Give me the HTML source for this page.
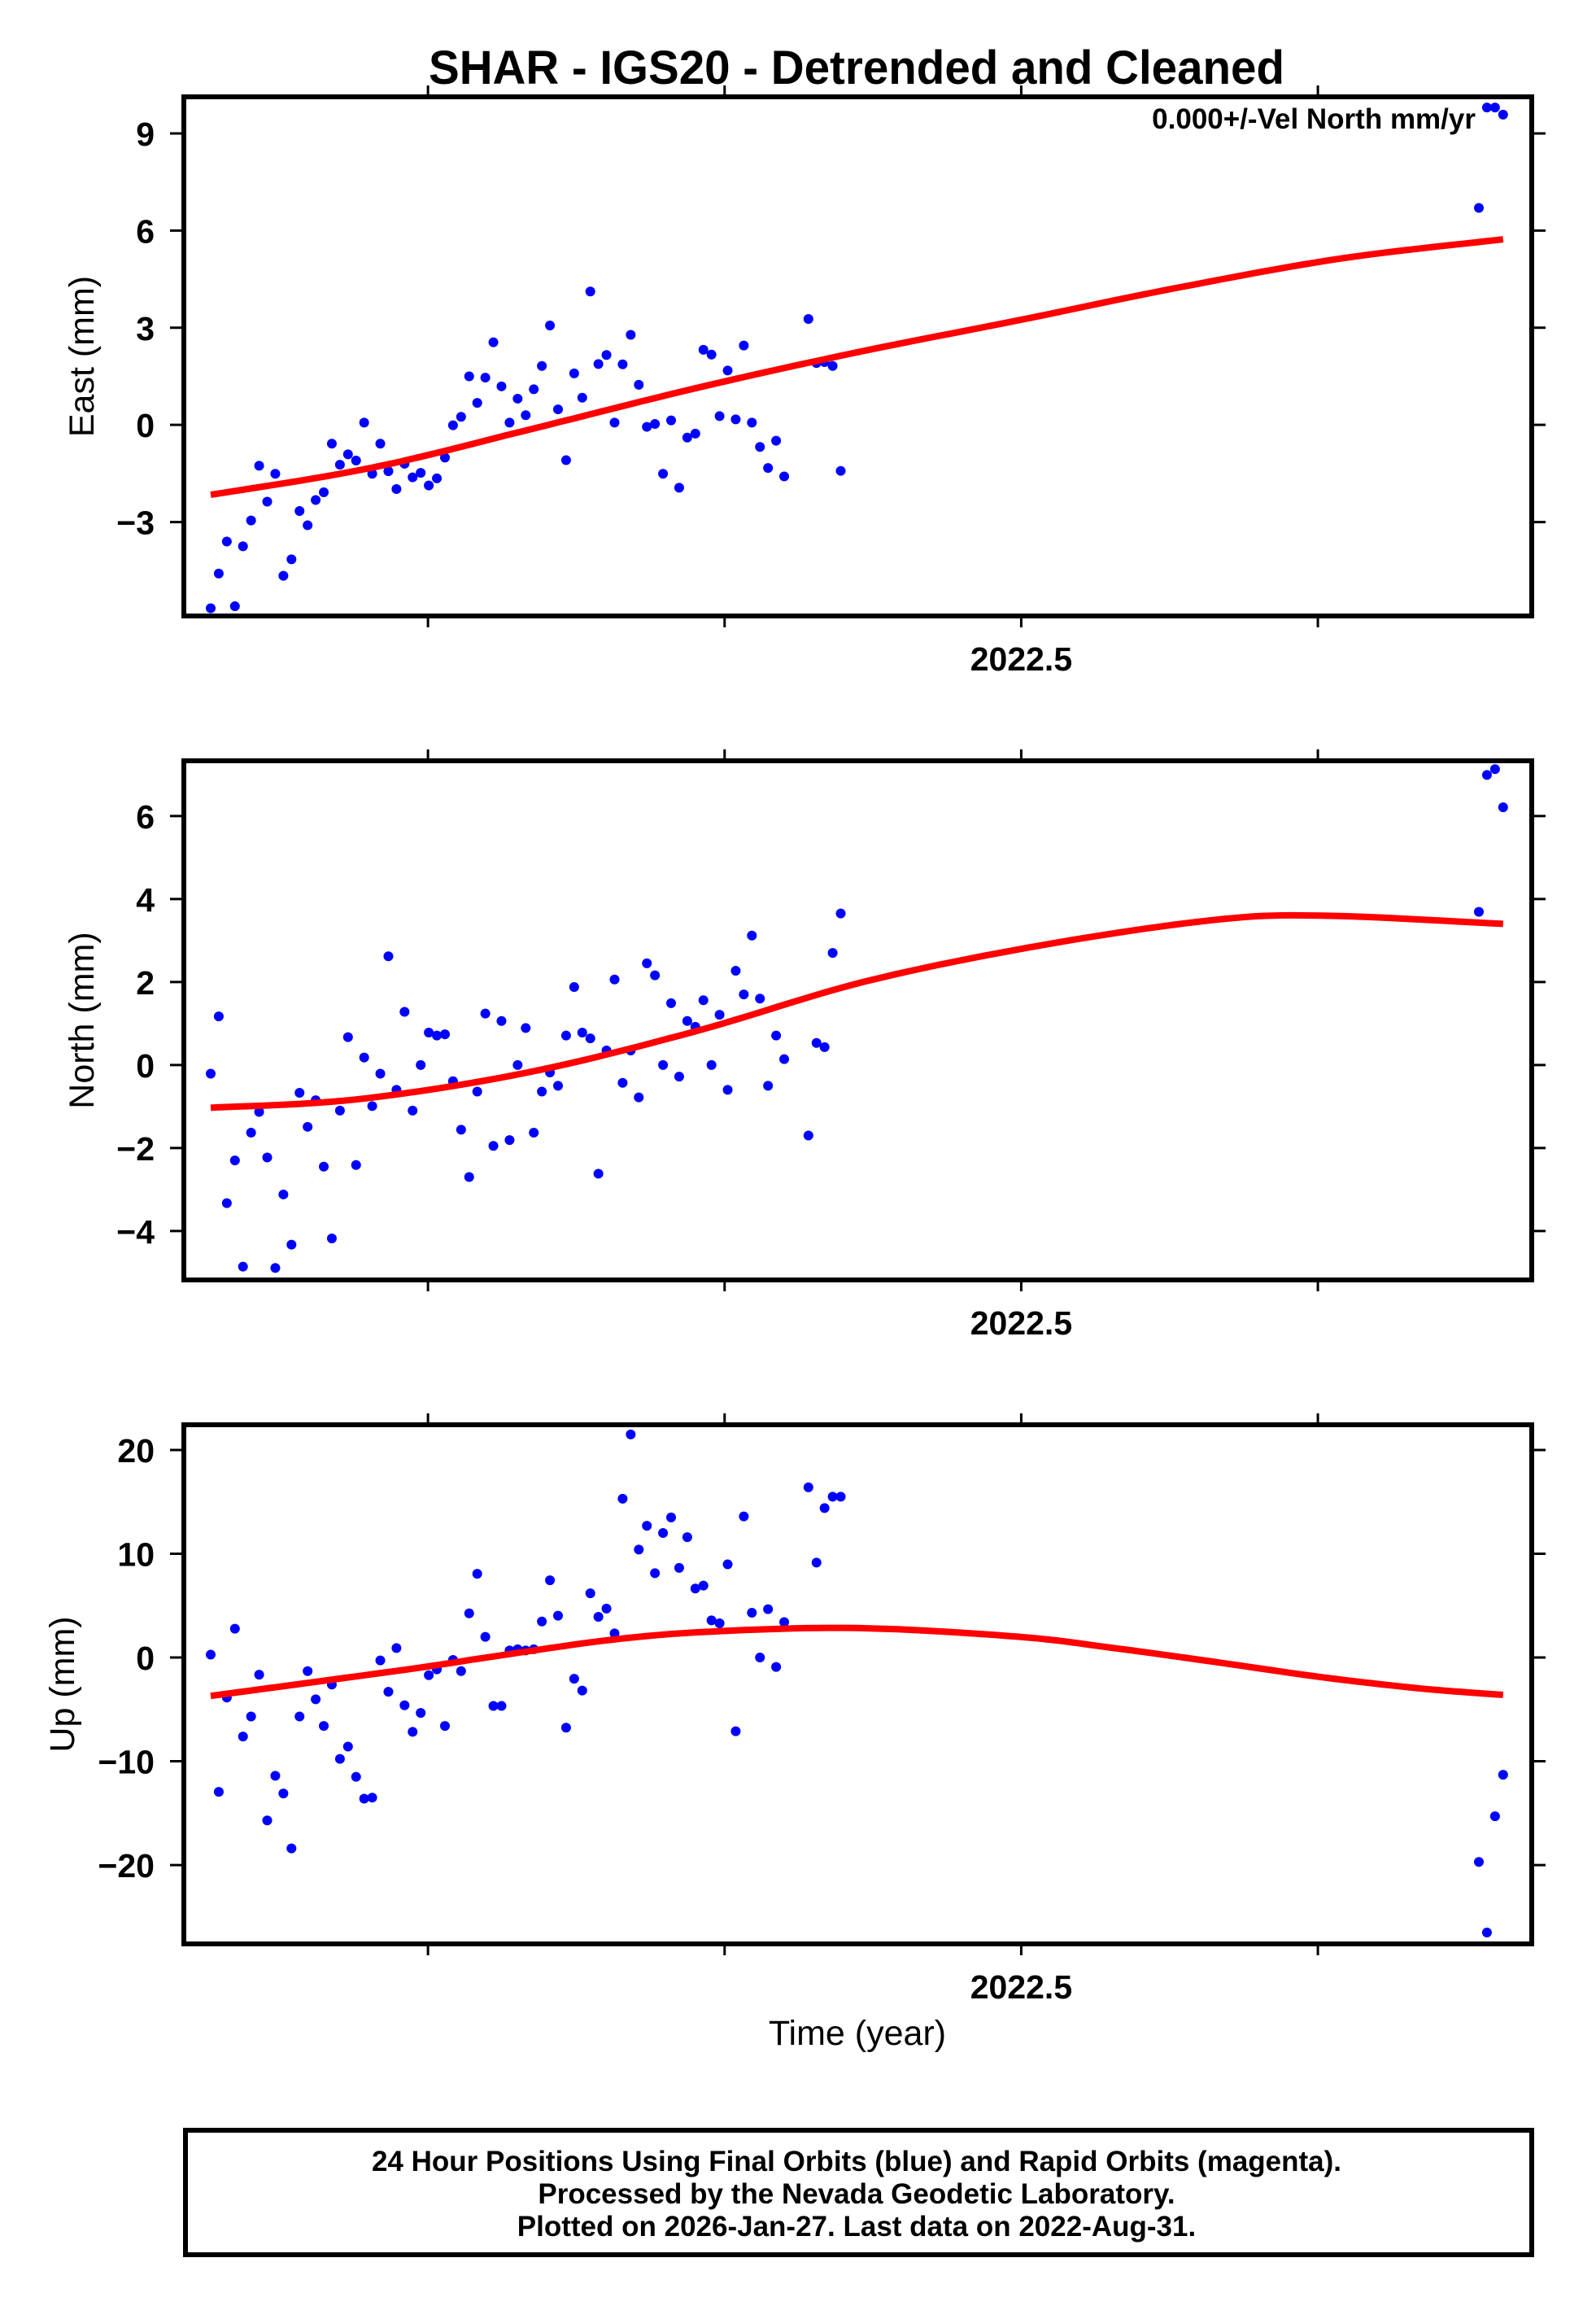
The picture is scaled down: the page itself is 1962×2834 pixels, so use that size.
<!DOCTYPE html>
<html><head><meta charset="utf-8"><style>
html,body{margin:0;padding:0;background:#fff;}
svg{display:block;font-family:"Liberation Sans",Arial,sans-serif;}
</style></head><body>
<svg id="chart" width="1962" height="2834" viewBox="0 0 1962 2834" xmlns="http://www.w3.org/2000/svg">
<rect x="0" y="0" width="1962" height="2834" fill="#fff"/>
<text x="1053" y="103" text-anchor="middle" font-size="58" font-weight="bold" textLength="1052" lengthAdjust="spacingAndGlyphs">SHAR - IGS20 - Detrended and Cleaned</text>
<g id="panels"></g>
<text x="1054" y="2513" text-anchor="middle" font-size="43">Time (year)</text>
<rect x="228" y="2618" width="1655" height="153" fill="none" stroke="#000" stroke-width="6"/>
<text x="1053" y="2668" text-anchor="middle" font-size="35" font-weight="bold">24 Hour Positions Using Final Orbits (blue) and Rapid Orbits (magenta).</text>
<text x="1053" y="2708" text-anchor="middle" font-size="35" font-weight="bold">Processed by the Nevada Geodetic Laboratory.</text>
<text x="1053" y="2748" text-anchor="middle" font-size="35" font-weight="bold">Plotted on 2026-Jan-27. Last data on 2022-Aug-31.</text>
</svg>
<script>
// day offsets from first epoch
const days = [0,1,2,3,4,5,6,7,8,9,10,11,12,13,14,15,16,17,18,19,20,21,22,23,24,25,26,27,28,29,30,31,32,33,34,35,36,37,38,39,40,41,42,43,44,45,46,47,48,49,50,51,52,53,54,55,56,57,58,59,60,61,62,63,64,65,66,67,68,69,70,71,74,75,76,77,78,157,158,159,160];
const eastValues = [-5.66,-4.59,-3.60,-5.60,-3.75,-2.95,-1.26,-2.37,-1.51,-4.66,-4.15,-2.66,-3.10,-2.32,-2.08,-0.58,-1.23,-0.91,-1.10,0.07,-1.51,-0.58,-1.43,-1.98,-1.20,-1.62,-1.48,-1.87,-1.65,-1.01,-0.01,0.25,1.50,0.68,1.46,2.55,1.19,0.07,0.81,0.30,1.10,1.82,3.07,0.48,-1.09,1.59,0.84,4.12,1.88,2.16,0.07,1.87,2.78,1.24,-0.06,0.03,-1.51,0.14,-1.94,-0.39,-0.27,2.32,2.17,0.27,1.68,0.17,2.45,0.07,-0.68,-1.33,-0.49,-1.59,3.27,1.91,1.94,1.82,-1.42,6.70,9.80,9.80,9.58];
const northValues = [-0.21,1.17,-3.33,-2.30,-4.86,-1.63,-1.13,-2.23,-4.89,-3.12,-4.33,-0.67,-1.49,-0.85,-2.45,-4.18,-1.10,0.67,-2.41,0.18,-0.99,-0.21,2.62,-0.60,1.28,-1.10,0.0,0.78,0.71,0.74,-0.39,-1.56,-2.70,-0.64,1.24,-1.95,1.06,-1.81,0.0,0.89,-1.63,-0.64,-0.18,-0.50,0.71,1.88,0.78,0.64,-2.62,0.35,2.06,-0.43,0.35,-0.78,2.45,2.16,0.0,1.49,-0.28,1.06,0.92,1.56,0.0,1.21,-0.60,2.27,1.70,3.12,1.60,-0.50,0.71,0.14,-1.70,0.53,0.43,2.70,3.65,3.69,6.99,7.13,6.21];
const upValues = [0.28,-12.95,-3.86,2.78,-7.61,-5.68,-1.65,-15.7,-11.4,-13.1,-18.4,-5.68,-1.31,-4.03,-6.59,-2.61,-9.77,-8.58,-11.5,-13.6,-13.5,-0.28,-3.30,0.91,-4.60,-7.16,-5.34,-1.70,-1.14,-6.59,-0.23,-1.31,4.26,8.07,1.99,-4.66,-4.66,0.68,0.80,0.68,0.80,3.47,7.44,4.03,-6.76,-2.05,-3.18,6.19,3.92,4.72,2.33,15.3,21.5,10.4,12.7,8.13,12.0,13.5,8.64,11.6,6.65,6.93,3.58,3.30,8.98,-7.10,13.6,4.32,0,4.66,-0.91,3.41,16.4,9.15,14.4,15.5,15.5,-19.7,-26.5,-15.3,-11.3];
// model curve knots (day offset, mm)
const eastModelDays = [0,20,40,60,80,100,120,140,160];
const eastModelValues = [-2.16,-1.32,-0.11,1.13,2.24,3.23,4.25,5.14,5.73];
const northModelDays = [0,18,39,60,81,103,124,137.5,160];
const northModelValues = [-1.03,-0.83,-0.19,0.81,2.01,2.89,3.49,3.60,3.40];
const upModelDays = [0,24.4,35,49.5,62,80,100,112.4,125,137.6,150,160];
const upModelValues = [-3.7,-1.14,0.1,1.7,2.5,2.84,2.0,0.85,-0.5,-1.9,-3.0,-3.6];
const eastTicks = [-3,0,3,6,9];
const northTicks = [-4,-2,0,2,4,6];
const upTicks = [-20,-10,0,10,20];
const xTicks = [2022.3,2022.4,2022.5,2022.6];
const xTickLabels = ["","","2022.5",""];

const NS="http://www.w3.org/2000/svg";
const X0=226, X1=1883, T0=2022.2177, T1=2022.6721;
function xOfYear(t){return X0+(t-T0)/(T1-T0)*(X1-X0);}
const D0=259, DPX=9.93;
function xOfDay(d){return D0+d*DPX;}
function mk(tag,attrs,parent){const e=document.createElementNS(NS,tag);for(const k in attrs)e.setAttribute(k,attrs[k]);parent.appendChild(e);return e;}
function smooth(xs,ys,n){const out=[];for(let i=0;i<xs.length-1;i++){const p0=i>0?i-1:i,p3=i+2<xs.length?i+2:i+1;for(let s=0;s<n;s++){const t=s/n,t2=t*t,t3=t2*t;const f=(a,b,c,d)=>0.5*((2*b)+(-a+c)*t+(2*a-5*b+4*c-d)*t2+(-a+3*b-3*c+d)*t3);out.push([f(xs[p0],xs[i],xs[i+1],xs[p3]),f(ys[p0],ys[i],ys[i+1],ys[p3])]);}}out.push([xs[xs.length-1],ys[ys.length-1]]);return out;}

const panels=[
 {key:"east",title:"East (mm)",top:119,bot:757,ymin:-5.9,ymax:10.13,ticks:eastTicks,vals:eastValues,md:eastModelDays,mv:eastModelValues,tx:101,vel:true},
 {key:"north",title:"North (mm)",top:935,bot:1573,ymin:-5.18,ymax:7.33,ticks:northTicks,vals:northValues,md:northModelDays,mv:northModelValues,tx:101},
 {key:"up",title:"Up (mm)",top:1751,bot:2389,ymin:-27.6,ymax:22.43,ticks:upTicks,vals:upValues,md:upModelDays,mv:upModelValues,tx:77}
];
const root=document.getElementById("panels");
panels.forEach(p=>{
 const g=mk("g",{},root);
 
 
 const yOf=v=>p.bot-(v-p.ymin)/(p.ymax-p.ymin)*(p.bot-p.top);
 p.ticks.forEach(v=>{
  const y=yOf(v);
  const t1=mk("line",{x1:X0-17,x2:X0,y1:y,y2:y,stroke:"#000","stroke-width":3},g);
  
  
  const t2=mk("line",{x1:X1,x2:X1+17,y1:y,y2:y,stroke:"#000","stroke-width":3},g);
  
  
  const lb=mk("text",{x:X0-36,y:y+15,"text-anchor":"end","font-size":41,"font-weight":"bold"},g);
  lb.textContent=(v<0?"\u2212"+Math.abs(v):String(v));
  
  
 });
 xTicks.forEach((t,i)=>{
  const x=xOfYear(t);
  const a=mk("line",{x1:x,x2:x,y1:p.top-14,y2:p.top,stroke:"#000","stroke-width":3},g);
  
  
  const b=mk("line",{x1:x,x2:x,y1:p.bot,y2:p.bot+14,stroke:"#000","stroke-width":3},g);
  
  
  if(xTickLabels[i]){
   const l=mk("text",{x:x,y:p.bot+67,"text-anchor":"middle","font-size":41,"font-weight":"bold"},g);
   l.textContent=xTickLabels[i];
   
   
  }
 });
 const cy=(p.top+p.bot)/2;
 const at=mk("text",{x:p.tx,y:cy,"text-anchor":"middle","font-size":43,transform:`rotate(-90 ${p.tx} ${cy})`,dy:14},g);
 at.textContent=p.title;
 
 
 const cp=mk("clipPath",{id:"clip-"+p.key},g);
 mk("rect",{x:X0,y:p.top,width:X1-X0,height:p.bot-p.top},cp);
 const pg=mk("g",{"clip-path":"url(#clip-"+p.key+")"},g);
 p.vals.forEach((v,i)=>{
  const c=mk("circle",{cx:xOfDay(days[i]),cy:yOf(v),r:6,fill:"#0000ff"},pg);
  
  
 });
 const pts=smooth(p.md.map(xOfDay),p.mv.map(yOf),12);
 const ln=mk("polyline",{points:pts.map(q=>q[0].toFixed(1)+","+q[1].toFixed(1)).join(" "),fill:"none",stroke:"#ff0000","stroke-width":8},pg);
 
 
 const fr=mk("rect",{x:X0,y:p.top,width:X1-X0,height:p.bot-p.top,fill:"none",stroke:"#000","stroke-width":6},g);
 
 
 if(p.vel){
  const vt=mk("text",{x:1814,y:158,"text-anchor":"end","font-size":35,"font-weight":"bold"},g);
  vt.textContent="0.000+/-Vel North mm/yr";
  
  
 }
});
</script>
</body></html>
